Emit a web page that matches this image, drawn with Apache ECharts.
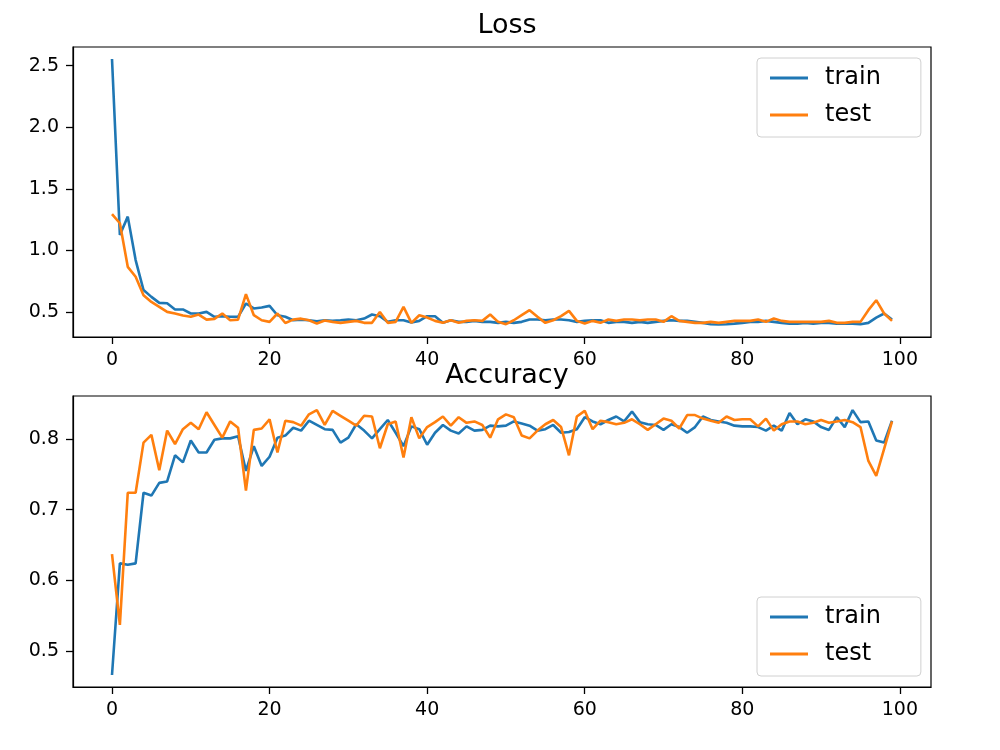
<!DOCTYPE html>
<html>
<head>
    <meta charset="utf-8">
    <title>Loss / Accuracy</title>
    <script src="https://cdn.jsdelivr.net/npm/echarts@6/dist/echarts.min.js"></script>
</head>
<body style="margin:0;background:#fff">
    <div id="main" style="width:1000px;height:750px;"></div>
    <script type="text/javascript">

    // values, one per epoch (0..99)
    var lossTrain = [2.555,1.125,1.274,0.921,0.677,0.622,0.573,0.570,0.520,0.520,
        0.487,0.487,0.500,0.460,0.465,0.460,0.460,0.568,0.528,0.535,
        0.549,0.473,0.460,0.432,0.437,0.432,0.424,0.432,0.427,0.432,
        0.438,0.432,0.446,0.479,0.465,0.419,0.432,0.432,0.414,0.427,
        0.465,0.465,0.411,0.432,0.419,0.419,0.427,0.419,0.419,0.411,
        0.419,0.411,0.419,0.438,0.438,0.432,0.438,0.438,0.432,0.419,
        0.427,0.432,0.432,0.411,0.419,0.419,0.411,0.419,0.411,0.419,
        0.427,0.432,0.427,0.427,0.419,0.411,0.400,0.397,0.400,0.405,
        0.411,0.419,0.419,0.427,0.419,0.411,0.405,0.405,0.411,0.405,
        0.411,0.411,0.405,0.405,0.405,0.400,0.411,0.454,0.487,0.438];
    var lossTest = [1.295,1.220,0.866,0.785,0.636,0.581,0.541,0.500,0.487,0.470,
        0.460,0.478,0.437,0.443,0.487,0.432,0.437,0.644,0.473,0.432,
        0.419,0.487,0.410,0.437,0.445,0.432,0.405,0.430,0.419,0.411,
        0.419,0.427,0.411,0.411,0.500,0.411,0.419,0.541,0.411,0.473,
        0.454,0.427,0.411,0.432,0.411,0.427,0.432,0.427,0.479,0.419,
        0.400,0.432,0.473,0.514,0.460,0.411,0.432,0.465,0.508,0.427,
        0.405,0.427,0.411,0.438,0.427,0.438,0.438,0.432,0.438,0.438,
        0.419,0.465,0.427,0.419,0.411,0.411,0.419,0.411,0.419,0.427,
        0.427,0.427,0.438,0.419,0.446,0.427,0.419,0.419,0.419,0.419,
        0.419,0.427,0.411,0.411,0.419,0.419,0.514,0.595,0.487,0.427];
    var accTrain = [0.466,0.624,0.622,0.624,0.724,0.720,0.738,0.740,0.777,0.767,
        0.798,0.781,0.781,0.799,0.801,0.801,0.804,0.755,0.790,0.762,
        0.775,0.802,0.805,0.816,0.812,0.826,0.820,0.814,0.813,0.795,
        0.802,0.821,0.812,0.801,0.814,0.827,0.809,0.790,0.818,0.814,
        0.792,0.809,0.820,0.812,0.808,0.818,0.812,0.813,0.819,0.818,
        0.819,0.825,0.822,0.819,0.812,0.814,0.820,0.809,0.810,0.814,
        0.831,0.825,0.821,0.827,0.832,0.825,0.839,0.824,0.821,0.820,
        0.813,0.821,0.817,0.809,0.817,0.832,0.827,0.825,0.823,0.819,
        0.818,0.818,0.817,0.812,0.819,0.812,0.837,0.821,0.828,0.825,
        0.817,0.813,0.831,0.817,0.841,0.824,0.825,0.798,0.795,0.826];
    var accTest = [0.637,0.537,0.724,0.724,0.795,0.806,0.756,0.812,0.793,0.814,
        0.823,0.814,0.838,0.820,0.802,0.825,0.816,0.727,0.813,0.815,
        0.828,0.781,0.826,0.824,0.819,0.835,0.841,0.820,0.840,0.833,
        0.826,0.819,0.833,0.832,0.787,0.821,0.825,0.774,0.831,0.801,
        0.817,0.824,0.832,0.819,0.831,0.823,0.825,0.820,0.802,0.828,
        0.835,0.831,0.805,0.801,0.812,0.821,0.827,0.817,0.777,0.832,
        0.840,0.814,0.826,0.824,0.821,0.823,0.828,0.821,0.813,0.821,
        0.829,0.826,0.815,0.834,0.834,0.829,0.826,0.823,0.832,0.827,
        0.828,0.828,0.818,0.829,0.812,0.821,0.825,0.825,0.821,0.823,
        0.827,0.823,0.825,0.827,0.824,0.817,0.769,0.748,0.786,0.825];

    var xTicks = [0, 20, 40, 60, 80, 100];
    var lossTicks = [0.5, 1.0, 1.5, 2.0, 2.5];
    var accTicks = [0.5, 0.6, 0.7, 0.8];

    var blue = '#1f77b4', orange = '#ff7f0e';
    var font = 'DejaVu Sans';

    function pairs(arr) {
        return arr.map(function (v, i) { return [i, v]; });
    }

    function xAxis(idx) {
        return {
            type: 'value', gridIndex: idx, min: -4.95, max: 103.95,
            axisLine: {show: true, onZero: false, lineStyle: {color: '#000', width: 1.2}},
            axisTick: {show: true, length: 7, lineStyle: {color: '#000', width: 1.3}, customValues: xTicks},
            axisLabel: {color: '#000', fontFamily: font, fontSize: 19, margin: 14, customValues: xTicks},
            splitLine: {show: false}
        };
    }

    function yAxis(idx, min, max, ticks) {
        return {
            type: 'value', gridIndex: idx, min: min, max: max,
            axisLine: {show: true, onZero: false, lineStyle: {color: '#000', width: 1.2}},
            axisTick: {show: true, length: 7, lineStyle: {color: '#000', width: 1.3}, customValues: ticks},
            axisLabel: {color: '#000', fontFamily: font, fontSize: 19, margin: 14,
                customValues: ticks,
                formatter: function (v) { return v.toFixed(1); }},
            splitLine: {show: false}
        };
    }

    function legend(top) {
        return {
            orient: 'vertical', left: 757, top: top,
            data: ['train', 'test'],
            icon: 'path://M0,0 L40,0 L40,3 L0,3 Z',
            itemWidth: 38, itemHeight: 3, itemGap: 13,
            padding: [8, 40, 10, 13],
            backgroundColor: 'rgba(255,255,255,0.8)',
            borderColor: '#d0d0d0', borderWidth: 1, borderRadius: 4,
            textStyle: {color: '#000', fontFamily: font, fontSize: 24, lineHeight: 24, padding: [0, 0, 0, 12]},
            selectedMode: false
        };
    }

    function line(name, data, color, idx) {
        return {
            name: name, type: 'line', xAxisIndex: idx, yAxisIndex: idx,
            data: pairs(data), showSymbol: false, symbol: 'none',
            lineStyle: {color: color, width: 2.6}, itemStyle: {color: color},
            animation: false
        };
    }

    var chart = echarts.init(document.getElementById('main'));
    var option = {
        backgroundColor: '#fff',
        animation: false,
        title: [
            {text: 'Loss', left: 502, top: 7, textAlign: 'center',
                textStyle: {fontFamily: font, fontSize: 27, fontWeight: 'normal', color: '#000'}},
            {text: 'Accuracy', left: 502, top: 357, textAlign: 'center',
                textStyle: {fontFamily: font, fontSize: 27, fontWeight: 'normal', color: '#000'}}
        ],
        grid: [
            {left: 73, top: 47, width: 858, height: 290, show: true, borderColor: '#000', borderWidth: 1.2},
            {left: 73, top: 396, width: 858, height: 291, show: true, borderColor: '#000', borderWidth: 1.2}
        ],
        xAxis: [xAxis(0), xAxis(1)],
        yAxis: [yAxis(0, 0.296, 2.652, lossTicks), yAxis(1, 0.449, 0.861, accTicks)],
        legend: [legend(58), legend(597)],
        series: [
            line('train', lossTrain, blue, 0),
            line('test', lossTest, orange, 0),
            line('train', accTrain, blue, 1),
            line('test', accTest, orange, 1)
        ]
    };
    chart.setOption(option);
    </script>
</body>
</html>
